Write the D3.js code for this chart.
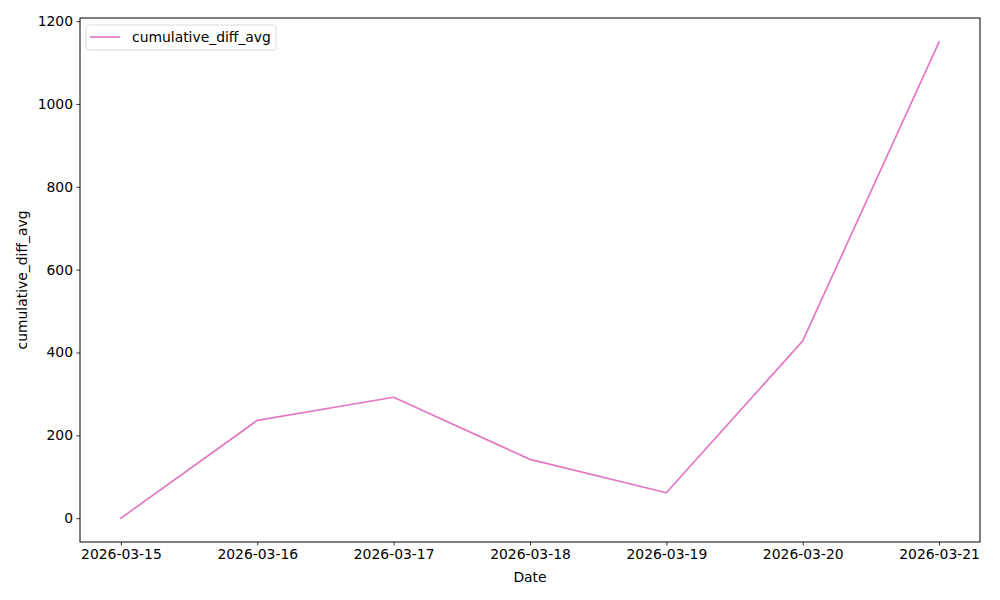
<!DOCTYPE html>
<html><head><meta charset="utf-8">
<script src="https://cdn.jsdelivr.net/npm/d3@7"></script>
<style>body{margin:0;background:#fff}svg{display:block}text{font-family:"DejaVu Sans",sans-serif}</style>
</head><body><svg id="c" width="1000" height="600"></svg>
<script>
const dates = ["2026-03-15","2026-03-16","2026-03-17","2026-03-18","2026-03-19","2026-03-20","2026-03-21"];
const values = [0, 236, 292, 142, 61.5, 428, 1150];
const yTicks = [0, 200, 400, 600, 800, 1000, 1200];
const seriesName = "cumulative_diff_avg";

const svg = d3.select("#c");
const L = 80, R = 980, T = 18, B = 542;
const parse = d3.utcParse("%Y-%m-%d");
const data = dates.map((d, i) => ({ d: parse(d), v: values[i] }));
const x0 = data[0].d, x1 = data[data.length - 1].d;
const span = x1 - x0;
const x = d3.scaleUtc().domain([new Date(+x0 - span * 0.05), new Date(+x1 + span * 0.05)]).range([L, R]);
const vmin = d3.min(values), vmax = d3.max(values), vr = vmax - vmin;
const y = d3.scaleLinear().domain([vmin - vr * 0.05, vmax + vr * 0.05]).range([B, T]);

svg.append("path").datum(data)
  .attr("fill", "none").attr("stroke", "#e377c2").attr("stroke-width", 1.7)
  .attr("stroke-linejoin", "round").attr("stroke-linecap", "square")
  .attr("d", d3.line().x(d => x(d.d)).y(d => y(d.v)));

const fmt = d3.utcFormat("%Y-%m-%d");
const xa = svg.append("g").attr("transform", `translate(0,${B})`)
  .call(d3.axisBottom(x).tickValues(data.map(d => d.d)).tickFormat(fmt).tickSizeOuter(0).tickSize(3.5).tickPadding(3.5));
const ya = svg.append("g").attr("transform", `translate(${L},0)`)
  .call(d3.axisLeft(y).tickValues(yTicks).tickFormat(d3.format("d")).tickSizeOuter(0).tickSize(3.5).tickPadding(3.5));
[xa, ya].forEach(a => {
  a.select(".domain").remove();
  a.selectAll("text").attr("font-size", 13.9).attr("fill", "#000").attr("font-family", "DejaVu Sans");
  a.selectAll("line").attr("stroke", "#000").attr("stroke-width", 0.8);
});
xa.selectAll("text").attr("dy", "0.71em");

svg.append("rect").attr("x", L).attr("y", T).attr("width", R - L).attr("height", B - T)
  .attr("fill", "none").attr("stroke", "#000").attr("stroke-width", 1);

svg.append("text").attr("x", (L + R) / 2).attr("y", 582).attr("text-anchor", "middle")
  .attr("font-size", 13.9).text("Date");
svg.append("text").attr("transform", `translate(27,${(T + B) / 2}) rotate(-90)`).attr("text-anchor", "middle")
  .attr("font-size", 13.9).text(seriesName);

const lg = svg.append("g").attr("transform", `translate(${L + 6},${T + 7})`);
lg.append("rect").attr("width", 190).attr("height", 25).attr("rx", 2.5)
  .attr("fill", "#fff").attr("fill-opacity", 0.8).attr("stroke", "#d0d0d0").attr("stroke-width", 0.8);
lg.append("line").attr("x1", 4).attr("x2", 34).attr("y1", 12).attr("y2", 12)
  .attr("stroke", "#e377c2").attr("stroke-width", 1.7);
lg.append("text").attr("x", 46).attr("y", 12).attr("dy", "0.35em").attr("font-size", 13.9).text(seriesName);
</script></body></html>
